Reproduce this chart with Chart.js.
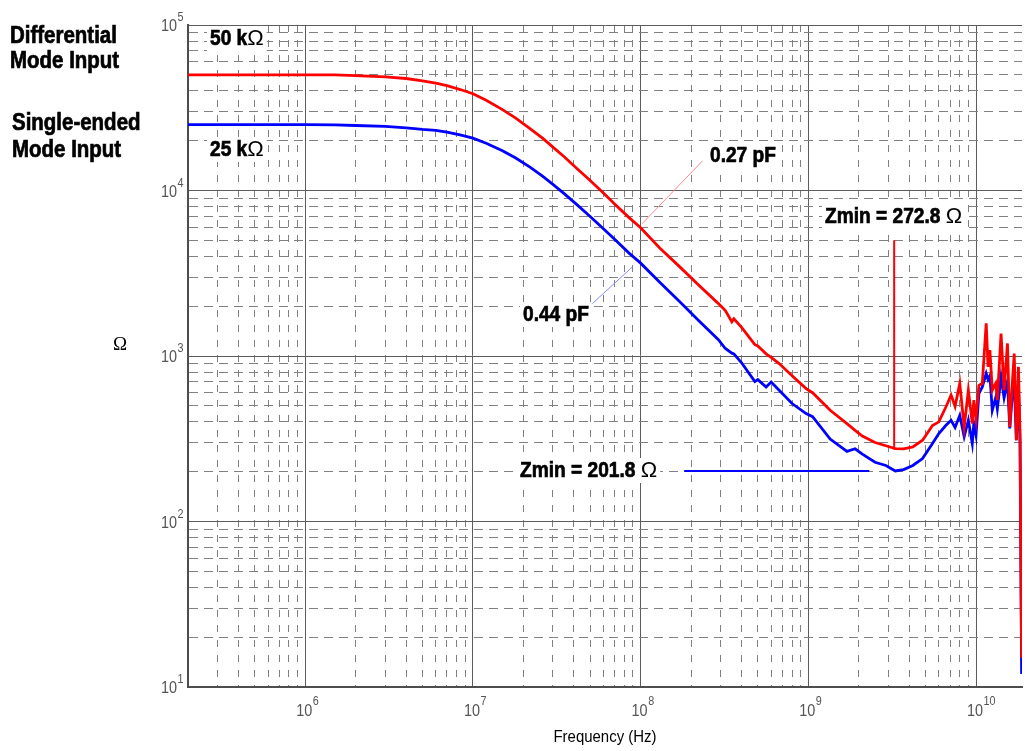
<!DOCTYPE html>
<html>
<head>
<meta charset="utf-8">
<script src="https://cdn.jsdelivr.net/npm/chart.js@4.4.1/dist/chart.umd.min.js"></script>
<style>
  html, body { margin: 0; padding: 0; background: #fff; overflow: hidden; }
  canvas { display: block; }
</style>
</head>
<body>
<canvas id="myChart" width="1025" height="751"></canvas>
<script>
// 周波数 (Hz) — 2本の曲線で共通
const freqs = [
  2e5, 1e6, 1.5e6, 2e6, 3e6, 4e6, 5e6, 6e6, 7e6, 8.5e6, 1e7, 1.2e7, 1.5e7, 1.8e7,
  2.2e7, 2.6e7, 3e7, 3.5e7, 4.2e7, 5e7, 6e7, 7e7, 8.5e7,
  1e8, 1.3e8, 1.7e8, 2.2e8, 2.9e8, 3.2e8, 3.5e8, 3.6e8, 4e8, 4.8e8, 5e8, 5.6e8,
  6e8, 6.7e8, 8e8, 9.7e8, 1.06e9, 1.35e9, 1.7e9, 1.9e9, 2.1e9, 2.5e9, 2.9e9,
  3.3e9, 3.7e9, 4.2e9, 4.8e9, 5.5e9, 6e9, 6.6e9, 7.1e9, 7.5e9, 8e9, 8.5e9, 9e9,
  9.5e9, 9.7e9, 1e10, 1.04e10, 1.09e10, 1.15e10, 1.18e10, 1.21e10, 1.25e10,
  1.31e10, 1.34e10, 1.41e10, 1.47e10, 1.54e10, 1.59e10, 1.65e10, 1.69e10,
  1.74e10, 1.79e10, 1.83e10, 1.87e10
];
// Differential Mode Input (Ω)
const zDiff = [
  50000, 50000, 50000, 49400, 48600, 47500, 46000, 44600, 43000, 40600, 38400, 35100, 30800, 27400,
  23600, 20700, 18300, 16000, 13500, 11500, 9650, 8300, 6880,
  5950, 4500, 3480, 2700, 2080, 1880, 1610, 1680, 1490, 1170, 1150, 1030,
  980, 900, 760, 635, 600, 470, 390, 355, 328, 300, 287,
  276, 275, 282, 310, 380, 400, 490, 580, 495, 683, 372, 621,
  391, 541, 419, 665, 683, 1575, 860, 1084, 621,
  683, 541, 1368, 621, 1191, 372, 714, 1035,
  310, 860, 340, 15
];
// Single-ended Mode Input (Ω)
const zSingle = [
  25000, 25000, 24900, 24700, 24400, 23900, 23400, 23100, 22500, 21600, 20700, 19300, 17400, 15700,
  13800, 12200, 10900, 9570, 8160, 6970, 5870, 5070, 4200,
  3640, 2790, 2140, 1650, 1260, 1110, 1040, 1030, 910, 700, 720, 650,
  697, 621, 516, 449, 430, 315, 265, 275, 255, 228, 218,
  202, 206, 218, 240, 296, 340, 380, 409, 370, 438, 325, 409,
  296, 391, 332, 593, 650, 784, 720, 760, 470,
  560, 480, 748, 560, 700, 365, 600, 700,
  310, 650, 300, 12
];
// 目盛りラベル (10^n)
const xExps = [6, 7, 8, 9, 10];
const yExps = [1, 2, 3, 4, 5];
const xRange = [2e5, 1.88e10];
const yRange = [10, 1e5];

// 注記
const zminDiff = 272.8;
const zminSingle = 201.8;

function decadeTicks(min, max) {
  const ticks = [];
  for (let e = Math.floor(Math.log10(min)); e <= Math.ceil(Math.log10(max)); e++) {
    for (let m = 1; m <= 9; m++) {
      const v = m * Math.pow(10, e);
      if (v >= min * 0.999 && v <= max * 1.001) ticks.push({ value: v, major: m === 1 });
    }
  }
  return ticks;
}

function fontOf(opt) {
  return (opt.weight || 'normal') + ' ' + opt.size + 'px ' + (opt.family || '"Liberation Sans", Arial, sans-serif');
}

function drawText(ctx, s, x, y, opt) {
  ctx.save();
  ctx.font = fontOf(opt);
  ctx.fillStyle = opt.color || '#000';
  ctx.textBaseline = 'alphabetic';
  ctx.textAlign = 'left';
  const sx = opt.sx || 1;
  const w = ctx.measureText(s).width * sx;
  let left = x;
  if (opt.align === 'center') left = x - w / 2;
  if (opt.align === 'right') left = x - w;
  ctx.translate(left, y);
  ctx.scale(sx, 1);
  ctx.fillText(s, 0, 0);
  if (opt.stroke) {
    // 太字をもう少し太く
    ctx.lineWidth = opt.stroke;
    ctx.strokeStyle = opt.color || '#000';
    ctx.strokeText(s, 0, 0);
  }
  ctx.restore();
  return w;
}

function measure(ctx, s, opt) {
  ctx.save();
  ctx.font = fontOf(opt);
  const w = ctx.measureText(s).width * (opt.sx || 1);
  ctx.restore();
  return w;
}

const boldLabel = { weight: 'bold', size: 22, sx: 0.87, stroke: 0.7 };
const ohmFont = { size: 22 };

// 白背景つきの注記ラベル
function plotLabel(ctx, s, x, y, withOhm) {
  const w1 = measure(ctx, s, boldLabel);
  const w2 = withOhm ? measure(ctx, '\u03A9', ohmFont) : 0;
  ctx.fillStyle = '#fff';
  ctx.fillRect(x - 3, y - 19, w1 + w2 + 6, 25);
  drawText(ctx, s, x, y, boldLabel);
  if (withOhm) drawText(ctx, '\u03A9', x + w1, y, ohmFont);
}

const overlay = {
  id: 'overlay',
  afterDatasetsDraw(chart) {
    const ctx = chart.ctx;
    const xs = chart.scales.x;
    const ys = chart.scales.y;
    const px = (f) => xs.getPixelForValue(f);
    const py = (z) => ys.getPixelForValue(z);
    ctx.save();
    // 0.27 pF / 0.44 pF の引き出し線
    ctx.lineWidth = 1;
    ctx.strokeStyle = '#ff8a8a';
    ctx.beginPath();
    ctx.moveTo(px(1.02e8), py(6300));
    ctx.lineTo(px(2.34e8), py(15100));
    ctx.stroke();
    ctx.strokeStyle = '#8a8aff';
    ctx.beginPath();
    ctx.moveTo(px(5.16e7), py(2075));
    ctx.lineTo(px(8.95e7), py(3460));
    ctx.stroke();
    // Zmin マーカー
    ctx.lineWidth = 2;
    ctx.strokeStyle = '#ff0000';
    ctx.beginPath();
    ctx.moveTo(px(3.25e9), py(5000));
    ctx.lineTo(px(3.25e9), py(zminDiff));
    ctx.stroke();
    ctx.strokeStyle = '#0000ff';
    ctx.beginPath();
    ctx.moveTo(px(1.82e8), py(zminSingle));
    ctx.lineTo(px(2.31e9), py(zminSingle));
    ctx.stroke();
    ctx.restore();

    plotLabel(ctx, '50 k', 210, 45, true);
    plotLabel(ctx, '25 k', 210, 156, true);
    plotLabel(ctx, '0.27 pF', 710, 162, false);
    plotLabel(ctx, '0.44 pF', 523, 321, false);
    plotLabel(ctx, 'Zmin = ' + zminDiff + ' ', 825, 223, true);
    plotLabel(ctx, 'Zmin = ' + zminSingle + ' ', 520, 477, true);
  },
  afterDraw(chart) {
    const ctx = chart.ctx;
    const xs = chart.scales.x;
    const ys = chart.scales.y;
    const tick = { size: 17, sx: 0.85, color: '#555' };
    const sup = { size: 12, sx: 0.9, color: '#555' };

    yExps.forEach(e => {
      const y = ys.getPixelForValue(Math.pow(10, e));
      drawText(ctx, '10', 177, y + 6, Object.assign({ align: 'right' }, tick));
      drawText(ctx, String(e), 177.5, y - 4, sup);
    });
    xExps.forEach(e => {
      const x = xs.getPixelForValue(Math.pow(10, e));
      const w = drawText(ctx, '10', x - 1, 716, Object.assign({ align: 'center' }, tick));
      drawText(ctx, String(e), x - 1 + w / 2 + 0.5, 705, sup);
    });

    drawText(ctx, 'Frequency (Hz)', 605, 742, { size: 17, sx: 0.88, align: 'center' });
    drawText(ctx, '\u03A9', 120, 350, { size: 19, align: 'center', family: '"Liberation Serif", serif' });

    const side = { weight: 'bold', size: 23, sx: 0.89, stroke: 0.7 };
    drawText(ctx, 'Differential', 10, 43, side);
    drawText(ctx, 'Mode Input', 10, 68, side);
    drawText(ctx, 'Single-ended', 12, 130, side);
    drawText(ctx, 'Mode Input', 12, 157, side);
  }
};

function gridScale(type, range, dash, fitSize) {
  return {
    type: 'logarithmic',
    min: range[0],
    max: range[1],
    afterBuildTicks: (scale) => { scale.ticks = decadeTicks(range[0], range[1]); },
    afterFit: (scale) => {
      if (type === 'x') scale.height = fitSize; else scale.width = fitSize;
    },
    ticks: { display: false },
    grid: {
      drawTicks: false,
      lineWidth: 1,
      color: (c) => (c.tick && c.tick.major) ? '#5c5c5c' : '#808080'
    },
    border: {
      display: true,
      color: '#4d4d4d',
      width: 2,
      dash: (c) => (c.tick && !c.tick.major) ? dash : []
    }
  };
}

const ctx = document.getElementById('myChart').getContext('2d');
new Chart(ctx, {
  type: 'line',
  data: {
    datasets: [
      {
        label: 'Differential Mode Input',
        data: freqs.map((f, i) => ({ x: f, y: zDiff[i] })),
        borderColor: '#ff0000',
        borderWidth: 2.8,
        pointRadius: 0,
        tension: 0
      },
      {
        label: 'Single-ended Mode Input',
        data: freqs.map((f, i) => ({ x: f, y: zSingle[i] })),
        borderColor: '#0000ff',
        borderWidth: 2.8,
        pointRadius: 0,
        tension: 0
      }
    ]
  },
  options: {
    responsive: false,
    animation: false,
    layout: { padding: { top: 25, right: 3, left: 0, bottom: 0 } },
    plugins: { legend: { display: false }, tooltip: { enabled: false } },
    scales: {
      x: gridScale('x', xRange, [7, 8], 64),
      y: gridScale('y', yRange, [9, 6], 188)
    }
  },
  plugins: [overlay]
});
</script>
</body>
</html>
